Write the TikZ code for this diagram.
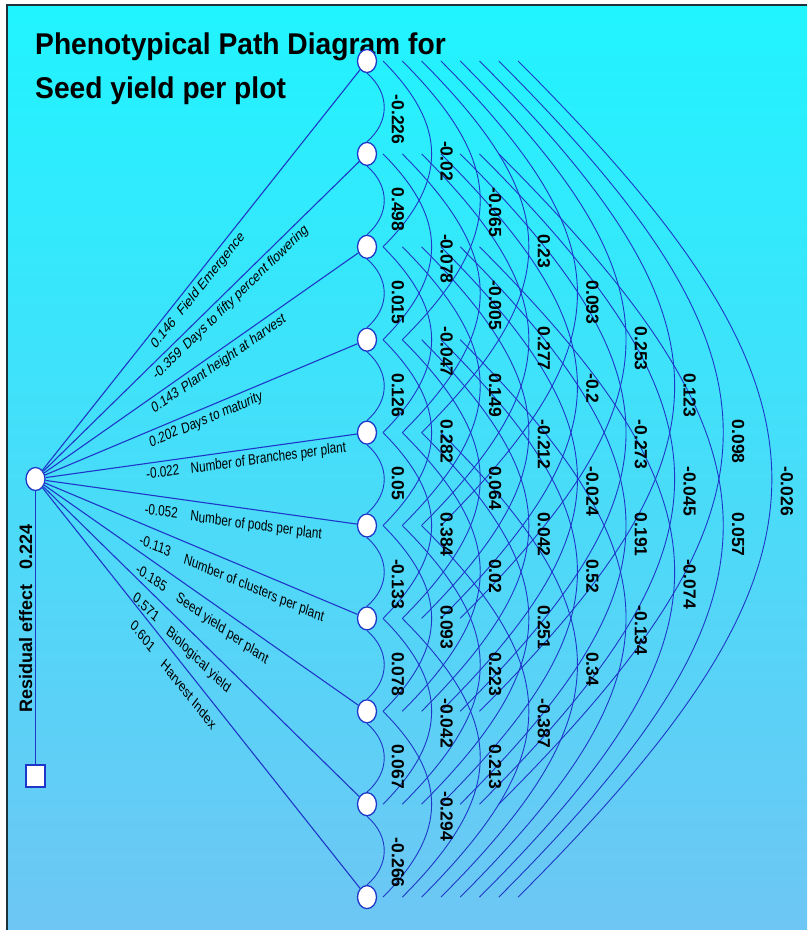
\documentclass[tikz,border=0pt]{standalone}
\usepackage{fontspec}
\setmainfont{Liberation Sans}
\usetikzlibrary{calc,shapes.geometric}
\definecolor{edgeblue}{RGB}{30,55,200}
\definecolor{bgtop}{RGB}{32,244,255}
\definecolor{bgbot}{RGB}{110,198,244}
\definecolor{framec}{RGB}{30,50,60}
\begin{document}
\begin{tikzpicture}[x=1pt,y=-1pt,
  var/.style={ellipse, draw=edgeblue, line width=1.3pt, fill=white, minimum width=19pt, minimum height=23pt, inner sep=0pt},
  resid/.style={rectangle, draw=edgeblue, line width=1.3pt, fill=white, minimum width=19pt, minimum height=22pt, inner sep=0pt},
  fan/.style={draw=edgeblue, line width=1.1pt},
  corrarc/.style={draw=edgeblue, line width=0.9pt},
  fanlbl/.style={anchor=north west, inner xsep=0pt, font=\fontsize{15}{17}\selectfont, xscale=0.78},
  corr/.style={rotate=-90, anchor=west, inner sep=0pt, font=\bfseries\fontsize{17.5}{20}\selectfont},
  titletext/.style={anchor=base west, inner sep=0pt, font=\bfseries\fontsize{30}{34}\selectfont},
  restext/.style={rotate=90, anchor=base west, inner sep=0pt, font=\bfseries\fontsize{18}{20}\selectfont},
]
\useasboundingbox (0,0) rectangle (807,930);
\fill[white] (0,0) rectangle (807,930);
\shade[top color=bgtop, bottom color=bgbot] (7,5) rectangle (807,930);
\draw[framec, line width=1.5pt] (7,930) -- (7,5) -- (807,5);

% title
\node[titletext] (t1) at (35,54) {\scalebox{0.94}[1]{Phenotypical Path Diagram for}};
\node[titletext] (t2) at (35,98) {\scalebox{0.94}[1]{Seed yield per plot}};

% nodes
\node[var] (L) at (35.5,479) {};
\node[resid] (R) at (35.5,776) {};
\foreach \k in {1,...,10}
  \node[var] (n\k) at (367,{61+92.9*(\k-1)}) {};

% residual
\draw[fan] (L) -- (R);
\node[restext] (res) at (32,713) {Residual effect\hspace{15pt}0.224};

% fan lines
\foreach \k in {1,...,10}
  \draw[fan] (L) -- (n\k);

% adjacent correlation arcs
\foreach \i in {1,...,9}{
  \pgfmathtruncatemacro\j{\i+1}
  \draw[corrarc] (n\i.south) .. controls +(23,20) and +(23,-20) .. (n\j.north);
}
% longer correlation arcs
\foreach \i in {1,...,8}{
  \pgfmathtruncatemacro\jstart{\i+2}
  \foreach \j in {\jstart,...,10}{
    \pgfmathsetmacro\dd{\j-\i}
    \pgfmathsetmacro\xo{16+19.3*(\dd-2)}
    \pgfmathsetmacro\cc{39.07*\dd-13.3}
    \draw[corrarc] ([xshift=\xo pt]n\i.center) .. controls +(\cc,\cc) and +(\cc,-\cc) .. ([xshift=\xo pt]n\j.center);
  }
}

% correlation labels
\foreach \i/\j/\v in {
  1/2/-0.226, 2/3/0.498, 3/4/0.015, 4/5/0.126, 5/6/0.05, 6/7/-0.133, 7/8/0.078, 8/9/0.067, 9/10/-0.266,
  1/3/-0.02, 2/4/-0.078, 3/5/-0.047, 4/6/0.282, 5/7/0.384, 6/8/0.093, 7/9/-0.042, 8/10/-0.294,
  1/4/-0.065, 2/5/-0.005, 3/6/0.149, 4/7/0.064, 5/8/0.02, 6/9/0.223, 7/10/0.213,
  1/5/0.23, 2/6/0.277, 3/7/-0.212, 4/8/0.042, 5/9/0.251, 6/10/-0.387,
  1/6/0.093, 2/7/-0.2, 3/8/-0.024, 4/9/0.52, 5/10/0.34,
  1/7/0.253, 2/8/-0.273, 3/9/0.191, 4/10/-0.134,
  1/8/0.123, 2/9/-0.045, 3/10/-0.074,
  1/9/0.098, 2/10/0.057,
  1/10/-0.026}{
  \pgfmathsetmacro\lx{398+48.6*(\j-\i-1)}
  \pgfmathsetmacro\ly{61+92.9*(\i+\j-2)/2-13}
  \node[corr] (c\i-\j) at (\lx,\ly) {\v};
}

% path labels: number and trait name along each path
\foreach \k/\ang/\tn/\tm/\gp/\num/\name in {
  1/44.52/0.336/0.415/5/0.146/Field Emergence,
  2/37.41/0.342/0.433/5/-0.359/Days to fifty percent flowering,
  3/28.65/0.340/0.430/5/0.143/Plant height at harvest,
  4/18.15/0.336/0.432/5/0.202/Days to maturity,
  5/6.23/0.331/0.465/5/-0.022/Number of Branches per plant,
  6/-6.24/0.333/0.471/9/-0.052/Number of pods per plant,
  7/-18.16/0.326/0.460/10/-0.113/Number of clusters per plant,
  8/-28.66/0.323/0.445/10/-0.185/Seed yield per plant,
  9/-37.42/0.321/0.422/10/0.571/Biological yield,
  10/-44.53/0.318/0.410/10/0.601/Harvest Index}{
  \node[fanlbl, inner ysep=\gp pt, rotate=\ang] (fv\k) at ($(L.center)!\tn!(n\k.center)$) {\num};
  \node[fanlbl, inner ysep=\gp pt, rotate=\ang] (fn\k) at ($(L.center)!\tm!(n\k.center)$) {\name};
}
\end{tikzpicture}
\end{document}
